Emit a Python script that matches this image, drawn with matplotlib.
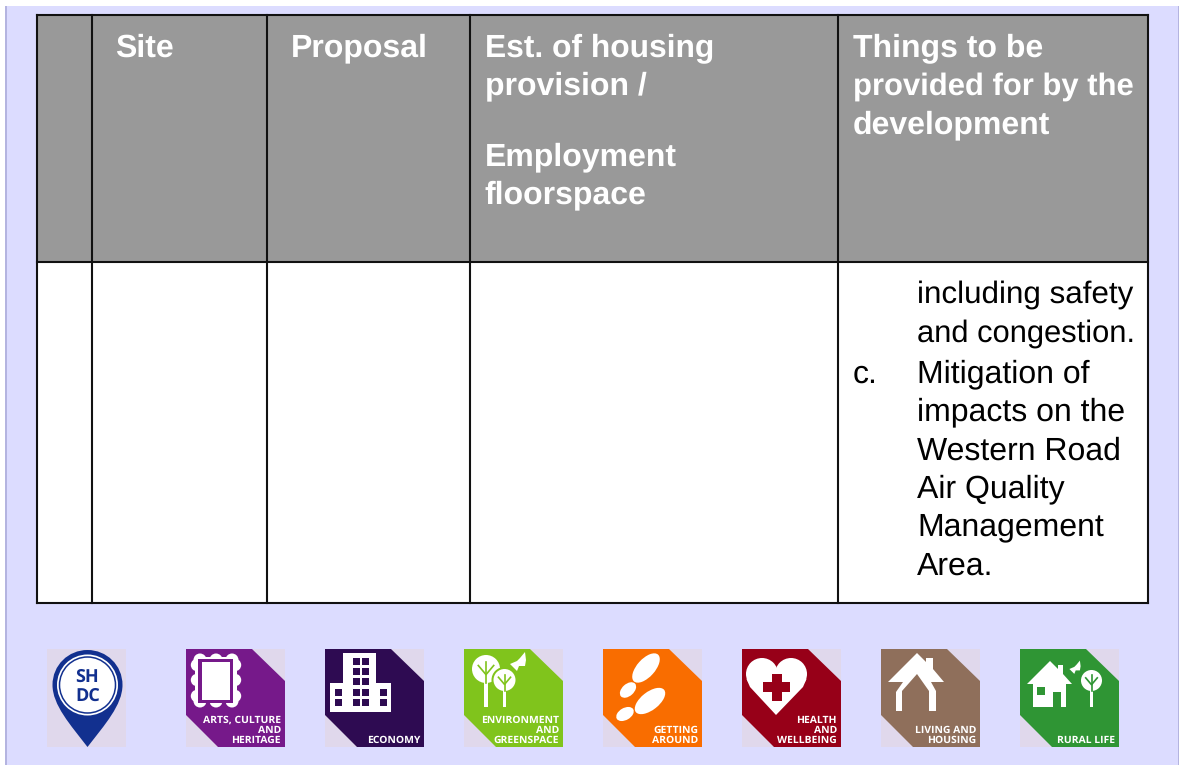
#!/usr/bin/env python3
"""Site allocation table page with the row of theme icons underneath."""

import matplotlib
matplotlib.use('Agg')
import matplotlib.pyplot as plt
from matplotlib.patches import Circle, Ellipse, PathPatch, Polygon, Rectangle
from matplotlib.path import Path

# Table text
header_labels = [
    ['Site'],
    ['Proposal'],
    ['Est. of housing', 'provision /', None, 'Employment', 'floorspace'],
    ['Things to be', 'provided for by the', 'development'],
]
body_lines = ['including safety', 'and congestion.']
body_marker = 'c.'
body_item = ['Mitigation of', 'impacts on the', 'Western Road', 'Air Quality', 'Management', 'Area.']

# Icon captions and colours
icon_captions = [
    ['ARTS, CULTURE', 'AND', 'HERITAGE'],
    ['ECONOMY'],
    ['ENVIRONMENT', 'AND', 'GREENSPACE'],
    ['GETTING', 'AROUND'],
    ['HEALTH', 'AND', 'WELLBEING'],
    ['LIVING AND', 'HOUSING'],
    ['RURAL LIFE'],
]
icon_colors = ['#76198a', '#2e0b52', '#80c41c', '#f96d00', '#970018', '#8f6f5b', '#2f9534']

PAGE = '#dcdcff'
TINT = '#e0d8ec'
HEADER = '#999999'
WHITE = '#ffffff'
PIN = '#12308f'
ICON_FONT = ['Open Sans', 'DejaVu Sans']
TEXT_SIZE = 23

# a few lines are set tighter in the original
tight_sizes = {'provided for by the': 22.37, 'and congestion.': 22.2, 'including safety': 22.6,
               'Est. of housing': 22.85}

plt.rcParams['font.family'] = ['Liberation Sans', 'DejaVu Sans']
plt.rcParams['text.hinting'] = 'no_hinting'

fig = plt.figure(figsize=(11.79, 7.65), dpi=100)
ax = fig.add_axes([0, 0, 1, 1])
ax.set_xlim(0, 1179)
ax.set_ylim(765, 0)
ax.axis('off')


def poly(points, color, x0=0, y0=0, z=3):
    ax.add_patch(Polygon([(x0 + px, y0 + py) for px, py in points],
                         closed=True, facecolor=color, edgecolor='none', zorder=z))


def rect(x, y, w, h, color, z=3):
    ax.add_patch(Rectangle((x, y), w, h, facecolor=color, edgecolor='none', zorder=z))


def disc(x, y, r, color, z=5):
    ax.add_patch(Circle((x, y), r, facecolor=color, edgecolor='none', zorder=z))


def draw_page():
    rect(6, 6, 1173, 759, PAGE, z=0)
    rect(5, 6, 1.5, 759, '#b4b4e0', z=1)
    rect(1177.5, 6, 1.5, 759, '#b4b4e0', z=1)

    column_edges = [37, 92, 267, 470, 838, 1148]
    top, split, bottom = 15, 262, 603
    rect(37, top, 1111, split - top, HEADER, z=1)
    rect(37, split, 1111, bottom - split, WHITE, z=1)
    for x in column_edges:
        ax.plot([x, x], [top, bottom], color='#111111', lw=1.5, zorder=2, solid_capstyle='projecting')
    for y in [top, split, bottom]:
        ax.plot([37, 1148], [y, y], color='#111111', lw=1.5, zorder=2, solid_capstyle='projecting')

    # Header text, baselines 38 px apart
    for x, lines in zip([115, 290.6, 484.6, 852.8], header_labels):
        y = 56.5
        for line in lines:
            if line is None:
                y += 32
                continue
            ax.text(x, y, line, color=WHITE, fontsize=tight_sizes.get(line, TEXT_SIZE),
                    fontweight='bold', va='baseline', ha='left')
            y += 38.3

    for y, line in zip([302.4, 341.4], body_lines):
        ax.text(917, y, line, color='black', fontsize=tight_sizes.get(line, TEXT_SIZE), va='baseline')
    ax.text(853, 382.4, body_marker, color='black', fontsize=TEXT_SIZE, va='baseline')
    for y, line in zip([382.4, 420.4, 459.6, 497.4, 535.4, 574.6], body_item):
        ax.text(917, y, line, color='black', fontsize=TEXT_SIZE, va='baseline')


def icon_base(x0, y0, color, caption):
    rect(x0, y0, 99, 98, TINT)
    poly([(0, 0), (66, 0), (99, 32), (99, 98), (32, 98), (0, 66)], color, x0, y0, z=4)
    baseline = 94 - 10 * (len(caption) - 1)
    for i, line in enumerate(caption):
        ax.text(x0 + 95, y0 + baseline + 10 * i, line, color=WHITE, fontsize=7.45,
                family=ICON_FONT, fontweight='bold', ha='right', va='baseline', zorder=6)


def draw_pin():
    rect(47, 649, 79, 98, TINT)
    cx, cy = 87.5, 685
    path = Path([(cx - 35, cy), (cx - 35, cy - 20), (cx - 19, cy - 35), (cx, cy - 35),
                 (cx + 19, cy - 35), (cx + 35, cy - 20), (cx + 35, cy),
                 (cx + 35, cy + 20), (cx + 17, cy + 40), (cx, cy + 62),
                 (cx - 17, cy + 40), (cx - 35, cy + 20), (cx - 35, cy)],
                [Path.MOVETO] + [Path.CURVE4] * 12)
    ax.add_patch(PathPatch(path, facecolor=PIN, edgecolor='none', zorder=4))
    disc(cx, cy, 30.5, WHITE)
    ax.add_patch(Circle((cx, cy), 28, facecolor='none', edgecolor=PIN, lw=1.1, zorder=6))
    ax.text(cx, 677, 'SH', color=PIN, fontsize=13, fontweight='bold',
            family=ICON_FONT, ha='center', va='center', zorder=7)
    ax.text(cx, 696, 'DC', color=PIN, fontsize=13, fontweight='bold',
            family=ICON_FONT, ha='center', va='center', zorder=7)


def draw_frame(x0, y0, color):
    # scalloped picture frame
    for cx in [14, 30, 46]:
        for cy in [11, 52]:
            disc(x0 + cx, y0 + cy, 6.5, WHITE)
    for cy in [16, 31, 47]:
        for cx in [11, 49]:
            disc(x0 + cx, y0 + cy, 6.2, WHITE)
    rect(x0 + 9, y0 + 8, 42, 46, WHITE, z=5)
    rect(x0 + 12, y0 + 10, 35, 44, color, z=6)
    rect(x0 + 16, y0 + 13, 28, 38, WHITE, z=7)


def draw_building(x0, y0, color):
    rect(x0 + 18, y0 + 4, 33, 32, WHITE, z=5)
    rect(x0 + 5, y0 + 34, 61, 29, WHITE, z=5)
    windows = [(28, 9), (37, 9), (28, 19), (37, 19), (28, 29), (37, 29),
               (28, 40), (37, 40), (28, 50), (37, 50), (10, 40), (10, 50), (55, 40), (55, 50)]
    for wx, wy in windows:
        rect(x0 + wx, y0 + wy, 7, 7, color, z=6)


def draw_tree(cx, top, r, stem_bottom, color, stem=3.5, z=5):
    disc(cx, top + r, r, WHITE, z=z)
    rect(cx - stem / 2, top + r, stem, stem_bottom - top - r, WHITE, z=z)
    ax.plot([cx, cx], [top + r * 0.5, top + r * 2], color=color, lw=1.2, zorder=z + 1)
    ax.plot([cx - r * 0.55, cx, cx + r * 0.55], [top + r * 0.75, top + r * 1.4, top + r * 0.75],
            color=color, lw=1.2, zorder=z + 1)


def draw_butterfly(cx, cy, scale=1.0):
    points = [(-8, 0), (-1, -3), (2, -6), (7, -12), (8, -4), (7, 2), (1, 2), (-1, 7), (-5, 3)]
    poly([(cx + px * scale, cy + py * scale) for px, py in points], WHITE, z=5)


def draw_greenspace(x0, y0, color):
    draw_tree(x0 + 22, y0 + 6, 14, y0 + 58, color)
    disc(x0 + 40.5, y0 + 31, 13, color, z=7)
    draw_tree(x0 + 40.5, y0 + 20, 11, y0 + 58, color, z=8)
    draw_butterfly(x0 + 54, y0 + 15)


def draw_footprints(x0, y0):
    for cx, cy, w, h, a in [(43, 19, 18, 36, 42), (25, 41, 12, 19, 48),
                            (47, 52, 18, 36, 52), (22, 65, 12, 19, 60)]:
        ax.add_patch(Ellipse((x0 + cx, y0 + cy), w, h, angle=a, facecolor=WHITE, edgecolor='none', zorder=5))


def draw_heart(x0, y0, color):
    disc(x0 + 20, y0 + 25, 16, WHITE)
    disc(x0 + 49, y0 + 25, 16, WHITE)
    poly([(4.5, 30), (34, 20), (64.5, 30), (61, 38), (34, 66), (8, 38)], WHITE, x0, y0, z=5)
    rect(x0 + 21, y0 + 33, 27, 10, color, z=6)
    rect(x0 + 30, y0 + 25, 10, 27, color, z=6)


def draw_house_outline(x0, y0, color):
    poly([(7, 33), (36, 4), (45, 13), (45, 9), (52, 9), (52, 20), (63, 33), (50, 33), (55, 42),
          (55, 62), (48, 62), (48, 42), (36, 25), (21, 42), (21, 62), (15, 62), (15, 43), (22, 33)],
         WHITE, x0, y0, z=5)


def draw_rural(x0, y0, color):
    poly([(7, 35), (30, 12), (38, 20), (38, 16), (43, 16), (43, 25), (52, 35), (46, 35),
          (46, 58), (41, 58), (41, 43), (33, 43), (33, 58), (13, 58), (13, 35)], WHITE, x0, y0, z=5)
    rect(x0 + 17, y0 + 38, 8, 8, color, z=6)
    draw_tree(x0 + 71.5, y0 + 21, 10.5, y0 + 58, color, stem=2.5)
    draw_butterfly(x0 + 55, y0 + 20, 0.7)


draw_page()
draw_pin()
icon_x = [186, 325, 464, 603, 742, 881, 1020]
icon_y = 649
for x0, color, caption in zip(icon_x, icon_colors, icon_captions):
    icon_base(x0, icon_y, color, caption)
draw_frame(icon_x[0], icon_y, icon_colors[0])
draw_building(icon_x[1], icon_y, icon_colors[1])
draw_greenspace(icon_x[2], icon_y, icon_colors[2])
draw_footprints(icon_x[3], icon_y)
draw_heart(icon_x[4], icon_y, icon_colors[4])
draw_house_outline(icon_x[5], icon_y, icon_colors[5])
draw_rural(icon_x[6], icon_y, icon_colors[6])

fig.savefig('out.png', dpi=100, facecolor='white')
